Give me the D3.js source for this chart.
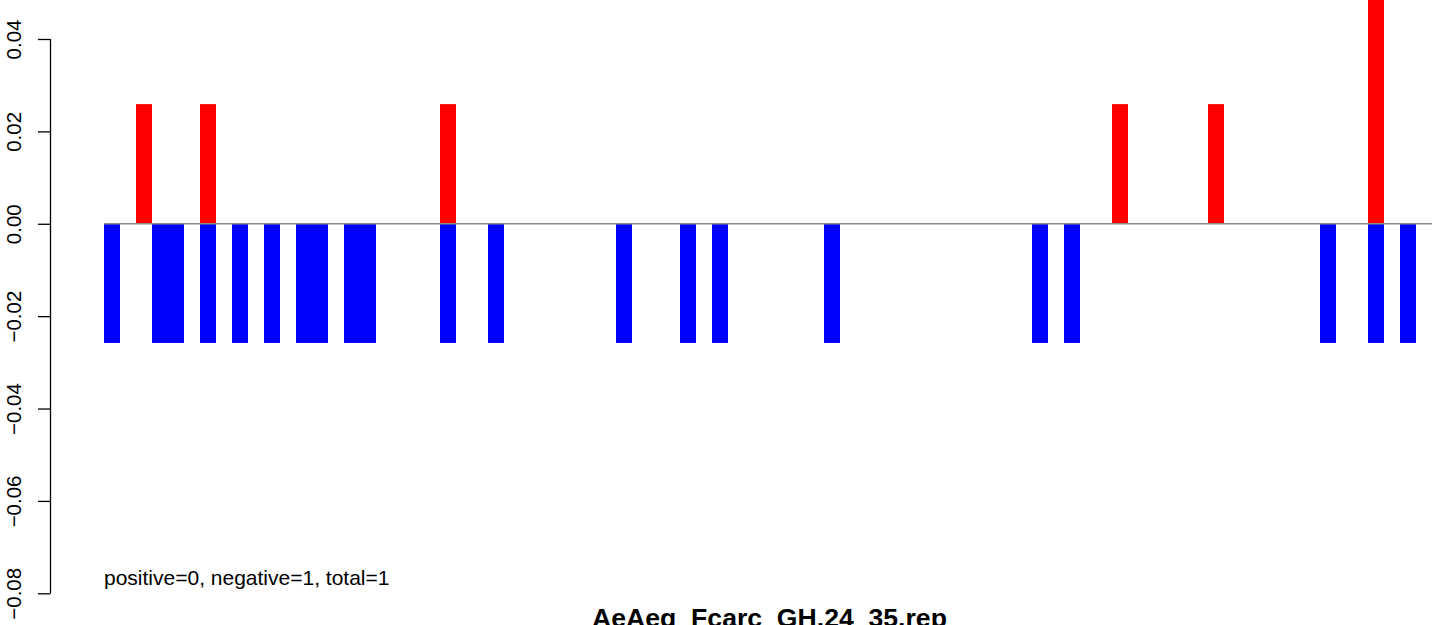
<!DOCTYPE html>
<html>
<head>
<meta charset="utf-8">
<script src="https://cdn.jsdelivr.net/npm/d3@7"></script>
<style>
  html, body { margin: 0; padding: 0; background: #fff; }
  svg { display: block; font-family: "Liberation Sans", Arial, Helvetica, sans-serif; }
</style>
</head>
<body>
<svg id="chart" width="1444" height="625"></svg>
<script>
// ---- data ----
const positions = d3.range(83); // bar slots 0..82
const negativeValues = [
  -0.0258, 0, 0, -0.0258, -0.0258, 0, -0.0258, 0, -0.0258, 0,
  -0.0258, 0, -0.0258, -0.0258, 0, -0.0258, -0.0258, 0, 0, 0,
  0, -0.0258, 0, 0, -0.0258, 0, 0, 0, 0, 0,
  0, 0, -0.0258, 0, 0, 0, -0.0258, 0, -0.0258, 0,
  0, 0, 0, 0, 0, -0.0258, 0, 0, 0, 0,
  0, 0, 0, 0, 0, 0, 0, 0, -0.0258, 0,
  -0.0258, 0, 0, 0, 0, 0, 0, 0, 0, 0,
  0, 0, 0, 0, 0, 0, -0.0258, 0, 0, -0.0258,
  0, -0.0258, 0
];
const positiveValues = [
  0, 0, 0.0259, 0, 0, 0, 0.0259, 0, 0, 0,
  0, 0, 0, 0, 0, 0, 0, 0, 0, 0,
  0, 0.0259, 0, 0, 0, 0, 0, 0, 0, 0,
  0, 0, 0, 0, 0, 0, 0, 0, 0, 0,
  0, 0, 0, 0, 0, 0, 0, 0, 0, 0,
  0, 0, 0, 0, 0, 0, 0, 0, 0, 0,
  0, 0, 0, 0.0259, 0, 0, 0, 0, 0, 0.0259,
  0, 0, 0, 0, 0, 0, 0, 0, 0, 0.0518,
  0, 0, 0
];
const yTicks = [-0.08, -0.06, -0.04, -0.02, 0.00, 0.02, 0.04];
const yTickLabels = ["\u22120.08", "\u22120.06", "\u22120.04", "\u22120.02", "0.00", "0.02", "0.04"];
const titleText = "AeAeg_Fcarc_GH.24_35.rep";
const noteText = "positive=0, negative=1, total=1";

// ---- layout ----
const svg = d3.select("#chart");
const x = d3.scaleBand().domain(positions).range([104, 1432]).padding(0);
const y = d3.scaleLinear().domain([-0.08, 0.04]).range([593.3, 39]);

// bars
const g = svg.append("g");
g.selectAll("rect.pos")
  .data(positions.filter(i => positiveValues[i] !== 0))
  .join("rect")
  .attr("class", "pos")
  .attr("x", i => x(i))
  .attr("width", x.bandwidth())
  .attr("y", i => y(positiveValues[i]))
  .attr("height", i => y(0) - y(positiveValues[i]))
  .attr("fill", "#FF0000");

g.selectAll("rect.neg")
  .data(positions.filter(i => negativeValues[i] !== 0))
  .join("rect")
  .attr("class", "neg")
  .attr("x", i => x(i))
  .attr("width", x.bandwidth())
  .attr("y", y(0))
  .attr("height", i => y(negativeValues[i]) - y(0))
  .attr("fill", "#0000FF");

// zero line
svg.append("line")
  .attr("x1", x.range()[0]).attr("x2", x.range()[1])
  .attr("y1", y(0)).attr("y2", y(0))
  .attr("stroke", "#8c8c8c").attr("stroke-width", 1.4);

// y axis
const axis = d3.axisLeft(y)
  .tickValues(yTicks)
  .tickSize(12.5)
  .tickFormat((d, i) => yTickLabels[i]);
const ax = svg.append("g").attr("transform", "translate(50.5,0)").call(axis);
ax.select(".domain").attr("stroke", "#000").attr("stroke-width", 1.3)
  .attr("d", `M0,${y(0.04)}V${y(-0.08)}`);
ax.selectAll(".tick line").attr("stroke", "#000").attr("stroke-width", 1.3);
ax.selectAll(".tick text")
  .attr("x", null).attr("dy", null)
  .attr("transform", "translate(-29.5,0) rotate(-90)")
  .attr("text-anchor", "middle")
  .attr("fill", "#000")
  .style("font-size", "20.5px")
  .style("font-family", "'Liberation Sans', Arial, sans-serif");

// note text
svg.append("text")
  .attr("x", 104).attr("y", 585)
  .style("font-size", "21px")
  .attr("fill", "#000")
  .text(noteText);

// title (bottom partially outside the canvas, as in the reference)
svg.append("text")
  .attr("x", 769.5).attr("y", 627)
  .attr("text-anchor", "middle")
  .style("font-size", "26.6px")
  .style("font-weight", "bold")
  .attr("fill", "#000")
  .text(titleText);
</script>
</body>
</html>
